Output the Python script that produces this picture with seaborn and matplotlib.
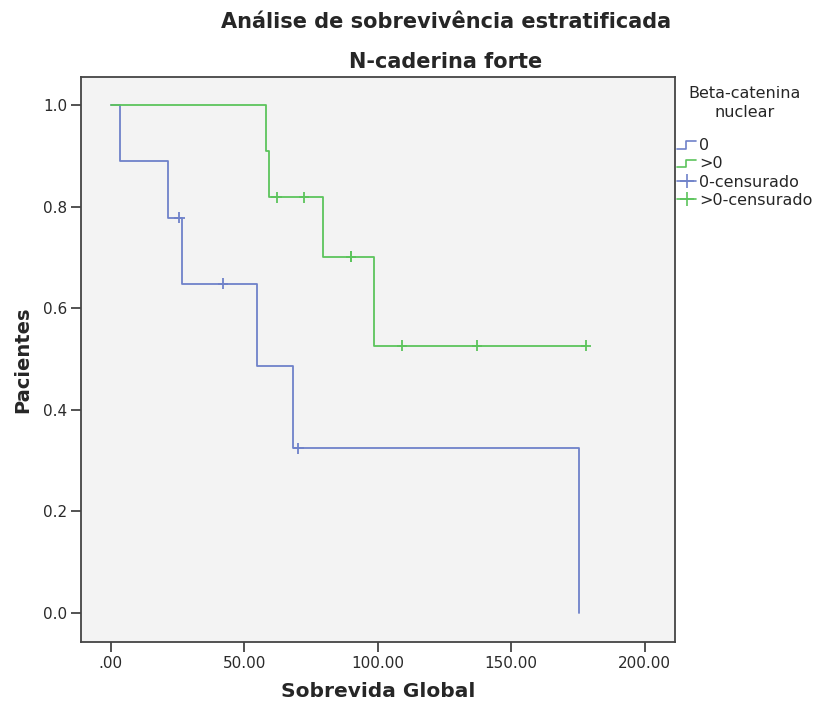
import numpy as np
import pandas as pd
import matplotlib
matplotlib.use("Agg")
import matplotlib.pyplot as plt
from matplotlib.lines import Line2D
from matplotlib.legend_handler import HandlerBase
import seaborn as sns

# ---- data ----
groups = ["0", ">0"]
blue_time = [0.0, 3.5, 21.5, 26.8, 54.8, 68.2, 175.5]
blue_surv = [1.0, 0.889, 0.778, 0.648, 0.486, 0.324, 0.0]
blue_cens_time = [25.7, 42.1, 70.3]
blue_cens_surv = [0.778, 0.648, 0.324]

green_time = [0.0, 58.1, 59.3, 79.4, 98.5, 178.0]
green_surv = [1.0, 0.909, 0.818, 0.701, 0.526, 0.526]
green_cens_time = [62.2, 72.4, 90.0, 90.0, 109.1, 137.2, 178.0]
green_cens_surv = [0.818, 0.818, 0.701, 0.701, 0.526, 0.526, 0.526]

x_ticks = [0, 50, 100, 150, 200]
x_tick_labels = [".00", "50.00", "100.00", "150.00", "200.00"]
y_ticks = [0.0, 0.2, 0.4, 0.6, 0.8, 1.0]
y_tick_labels = ["0.0", "0.2", "0.4", "0.6", "0.8", "1.0"]

legend_labels = ["0", ">0", "0-censurado", ">0-censurado"]

BLUE = "#6f82c9"
GREEN = "#5cc45c"
palette = {"0": BLUE, ">0": GREEN}

curves = pd.concat([
    pd.DataFrame({"time": blue_time, "surv": blue_surv, "group": "0"}),
    pd.DataFrame({"time": green_time, "surv": green_surv, "group": ">0"}),
], ignore_index=True)
cens = pd.concat([
    pd.DataFrame({"time": blue_cens_time, "surv": blue_cens_surv, "group": "0"}),
    pd.DataFrame({"time": green_cens_time, "surv": green_cens_surv, "group": ">0"}),
], ignore_index=True)

sns.set_style("ticks")
plt.rcParams["font.family"] = ["DejaVu Sans"]

fig = plt.figure(figsize=(8.19, 7.04), dpi=100)
L, R, T, B = 81, 675, 77, 642
ax = fig.add_axes([L / 819, 1 - B / 704, (R - L) / 819, (B - T) / 704])
ax.set_facecolor("#f3f3f3")

sns.lineplot(data=curves, x="time", y="surv", hue="group", palette=palette,
             drawstyle="steps-post", estimator=None, legend=False, ax=ax,
             linewidth=1.3)
sns.scatterplot(data=cens, x="time", y="surv", hue="group", palette=palette,
                marker="+", s=60, linewidth=1.3, legend=False, ax=ax)

ax.set_xlim(-11.1, 211.3)
ax.set_ylim(-0.057, 1.055)
ax.set_xticks(x_ticks)
ax.set_xticklabels(x_tick_labels)
ax.set_yticks(y_ticks)
ax.set_yticklabels(y_tick_labels)
ax.tick_params(axis="both", direction="out", length=7, width=1.3,
               color="#444444", labelsize=11, labelcolor="#2a2a2a", pad=3)
for sp in ax.spines.values():
    sp.set_visible(True)
    sp.set_color("#444444")
    sp.set_linewidth(1.3)

ax.set_xlabel("Sobrevida Global", fontsize=14.5, fontweight="bold", labelpad=8)
ax.set_ylabel("Pacientes", fontsize=14, fontweight="bold", labelpad=8)

fig.text(446 / 819, 1 - 22 / 704, "Análise de sobrevivência estratificada",
         ha="center", va="center", fontsize=15, fontweight="bold")
fig.text(446 / 819, 1 - 62 / 704, "N-caderina forte",
         ha="center", va="center", fontsize=15, fontweight="bold")


class StepHandler(HandlerBase):
    def create_artists(self, legend, orig_handle, xdescent, ydescent,
                       width, height, fontsize, trans):
        xs = np.array([0, width * 0.45, width * 0.45, width]) - xdescent
        ys = np.array([height * 0.1, height * 0.1, height * 0.8, height * 0.8]) - ydescent
        ln = Line2D(xs, ys, color=orig_handle.get_color(), lw=1.2, transform=trans)
        return [ln]


h0 = Line2D([], [], color=BLUE)
h1 = Line2D([], [], color=GREEN)
h2 = Line2D([], [], color=BLUE, marker="+", markersize=10, lw=1.2, mew=1.2)
h3 = Line2D([], [], color=GREEN, marker="+", markersize=10, lw=1.2, mew=1.2)
leg = fig.legend([h0, h1, h2, h3], legend_labels,
                 handler_map={h0: StepHandler(), h1: StepHandler()},
                 loc="upper left", bbox_to_anchor=(677 / 819, 1 - 86 / 704),
                 frameon=False, title="Beta-catenina\nnuclear",
                 fontsize=11.5, title_fontsize=11.5, handlelength=1.2,
                 handletextpad=0.2, labelspacing=0.2, borderaxespad=0,
                 borderpad=0)
leg.get_title().set_multialignment("center")
leg.get_title().set_linespacing(1.35)
leg._legend_box.sep = 13

fig.savefig("out.png", dpi=100, facecolor="white")
